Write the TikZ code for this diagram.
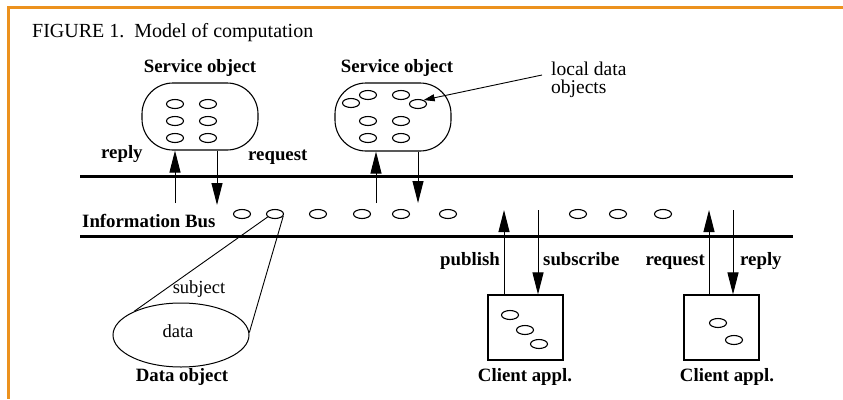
\documentclass[tikz,border=0pt]{standalone}
\usepackage{fontspec}
\setmainfont{Liberation Serif}
\usetikzlibrary{shapes.geometric,arrows.meta}

\definecolor{frameorange}{RGB}{236,146,30}

\begin{document}
\begin{tikzpicture}[x=1pt,y=-1pt,
  lbl/.style={inner sep=0pt, font=\bfseries\fontsize{18.8}{20}\selectfont},
  txt/.style={inner sep=0pt, font=\fontsize{18.5}{20}\selectfont},
  dot/.style={draw, ellipse, minimum width=17pt, minimum height=9pt, inner sep=0pt, line width=1.1pt},
  svcbox/.style={draw, rectangle, rounded corners=31pt, line width=1.1pt, inner sep=0pt,
                 minimum width=116pt, minimum height=67pt},
  clientbox/.style={draw, rectangle, line width=1.1pt, inner sep=0pt,
                    minimum width=75pt, minimum height=65pt},
  bus/.style={line width=3pt},
  flow/.style={line width=1pt, -{Triangle[length=22pt,width=11pt]}},
  pointer/.style={line width=0.9pt, -{Triangle[length=11pt,width=7pt]}},
]
\useasboundingbox (0,0) rectangle (843,399);
\fill[white] (0,0) rectangle (843,399);

% open frame, top and left
\draw[frameorange, line width=3pt] (843,7) -- (8,7) -- (8,399);

% caption
\node[inner sep=0pt, anchor=base west, font=\fontsize{20}{22}\selectfont] (caption) at (32,37)
  {FIGURE 1.\ \ Model of computation};

% ---------- information bus ----------
\draw[bus] (80,176) -- (793,176);
\draw[bus] (80,236) -- (793,236);
\node[lbl, anchor=base west] (buslbl) at (82,227) {Information Bus};

\foreach \n/\x in {1/242,2/275,3/318,4/362,5/401,6/448,7/578,8/618,9/663}
  \node[dot] (b\n) at (\x,214) {};

% ---------- service object 1 ----------
\node[lbl, anchor=base] (svc1lbl) at (200,72) {Service object};
\node[svcbox] (sb1) at (200,116.5) {};
\foreach \n/\x/\y in {1/175/104,2/208/104,3/175/121,4/208/121,5/175/138,6/208/138}
  \node[dot] (s1e\n) at (\x,\y) {};
\coordinate (r1) at (175,203);
\coordinate (q1) at (217,205);
\draw[flow] (r1) -- (r1 |- sb1.south);
\draw[flow] (q1 |- sb1.south) -- (q1);
\node[lbl, anchor=base west] (reply1) at (101,158) {reply};
\node[lbl, anchor=base west] (request1) at (248,160) {request};

% ---------- service object 2 ----------
\node[lbl, anchor=base] (svc2lbl) at (397,72) {Service object};
\node[svcbox, minimum height=68pt] (sb2) at (393,117) {};
\foreach \n/\x/\y in {1/351/103,2/368/95,3/401/95,4/418/104,5/368/121,6/401/121,7/368/138,8/401/138}
  \node[dot] (s2e\n) at (\x,\y) {};
\coordinate (r2) at (376,203);
\coordinate (q2) at (418,203);
\draw[flow] (r2) -- (r2 |- sb2.south);
\draw[flow] (q2 |- sb2.south) -- (q2);

\node[txt, font=\fontsize{19.5}{17.5}\selectfont, anchor=north west, align=left] (ldo) at (551,62)
  {local data\\objects};
\coordinate (ldstart) at (542,75);
\draw[pointer] (ldstart) -- (s2e4.35);

% ---------- data object ----------
\node[draw, ellipse, line width=1pt, minimum width=136pt, minimum height=64pt, inner sep=0pt]
  (dobj) at (181,335) {};
\draw[line width=0.9pt] (b2.202) -- (dobj.153);
\draw[line width=0.9pt] (b2.346) -- (dobj.2);
\node[txt, anchor=base] (subj) at (199,293) {subject};
\node[txt, anchor=base] (datatxt) at (178,337) {data};
\node[lbl, anchor=base] (dobjlbl) at (182,381) {Data object};

% ---------- client application 1 ----------
\node[clientbox] (cb1) at (525.5,327.5) {};
\foreach \n/\x/\y in {1/510/315,2/525/330,3/539/344}
  \node[dot] (c1e\n) at (\x,\y) {};
\coordinate (p1) at (504,210);
\coordinate (u1) at (538,210);
\draw[flow] (cb1.north -| p1) -- (p1);
\draw[flow] (u1) -- (u1 |- cb1.north);
\node[lbl, anchor=base east] (publish) at (500,265) {publish};
\node[lbl, anchor=base west] (subscribe) at (543,265) {subscribe};
\node[lbl, anchor=base] (cl1lbl) at (525,381) {Client appl.};

% ---------- client application 2 ----------
\node[clientbox] (cb2) at (721.5,327.5) {};
\foreach \n/\x/\y in {1/718/323,2/734/340}
  \node[dot] (c2e\n) at (\x,\y) {};
\coordinate (p2) at (709,210);
\coordinate (u2) at (733,210);
\draw[flow] (cb2.north -| p2) -- (p2);
\draw[flow] (u2) -- (u2 |- cb2.north);
\node[lbl, anchor=base east] (request2) at (705,265) {request};
\node[lbl, anchor=base west] (reply2) at (740,265) {reply};
\node[lbl, anchor=base] (cl2lbl) at (727,381) {Client appl.};
\end{tikzpicture}
\end{document}
